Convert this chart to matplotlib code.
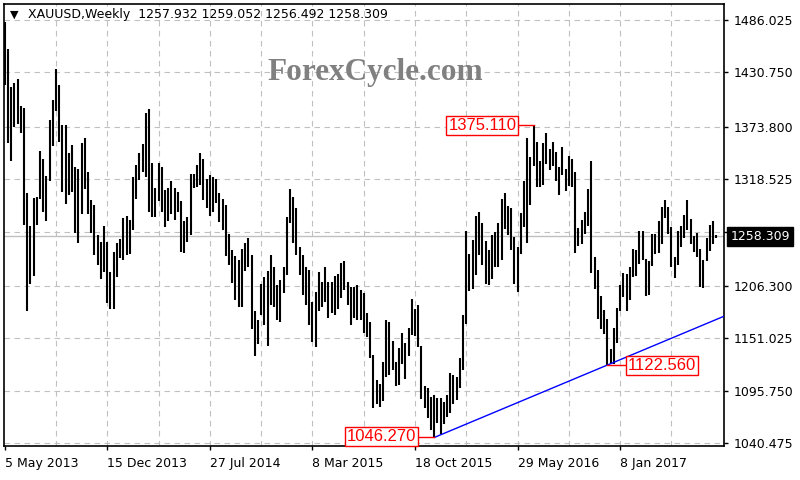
import matplotlib.pyplot as plt
from matplotlib.transforms import blended_transform_factory

# weekly XAUUSD bars from week of 5 May 2013 (bar index = week number)
highs = [
    1484, 1455, 1415, 1420, 1424, 1395, 1393, 1304, 1269, 1299,
    1300, 1348, 1340, 1322, 1381, 1402, 1434, 1418, 1375, 1375,
    1346, 1354, 1331, 1329, 1357, 1362, 1326, 1296, 1291, 1260,
    1252, 1269, 1252, 1221, 1242, 1251, 1255, 1277, 1280, 1275,
    1321, 1333, 1346, 1355, 1388, 1392, 1335, 1309, 1335, 1331,
    1307, 1309, 1316, 1309, 1305, 1295, 1274, 1279, 1324, 1324,
    1333, 1346, 1340, 1319, 1323, 1321, 1319, 1304, 1298, 1291,
    1261, 1244, 1237, 1233, 1245, 1251, 1256, 1238, 1180, 1170,
    1208, 1215, 1222, 1238, 1226, 1207, 1212, 1226, 1279, 1308,
    1300, 1288, 1247, 1238, 1226, 1223, 1189, 1200, 1221, 1210,
    1226, 1210, 1210, 1216, 1219, 1230, 1232, 1210, 1205, 1205,
    1207, 1202, 1198, 1177, 1168, 1133, 1107, 1103, 1126, 1170,
    1168, 1148, 1126, 1141, 1156, 1146, 1162, 1192, 1182, 1186,
    1143, 1101, 1098, 1089, 1091, 1088, 1088, 1084, 1091, 1114,
    1112, 1110, 1130, 1175, 1264, 1240, 1254, 1280, 1284, 1272,
    1253, 1244, 1260, 1263, 1272, 1297, 1304, 1290, 1288, 1257,
    1247, 1283, 1316, 1362, 1342, 1375.11, 1358, 1337, 1357, 1367,
    1350, 1358, 1347, 1331, 1352, 1329, 1343, 1340, 1326, 1267,
    1275, 1284, 1308, 1338, 1236, 1223, 1195, 1181, 1171, 1139,
    1162, 1183, 1207, 1220, 1219, 1226, 1245, 1244, 1264, 1264,
    1234, 1232, 1261, 1261, 1274, 1289, 1296, 1289, 1268, 1236,
    1264, 1269, 1281, 1296, 1276, 1258, 1262, 1245, 1233, 1256,
    1270, 1274, 1259.052,
]
lows = [
    1418, 1356, 1338, 1373, 1377, 1367, 1270, 1180, 1208, 1216,
    1270, 1297, 1284, 1274, 1316, 1353, 1390, 1358, 1305, 1292,
    1302, 1305, 1262, 1251, 1282, 1308, 1282, 1262, 1238, 1228,
    1213, 1221, 1188, 1182, 1182, 1215, 1235, 1233, 1238, 1240,
    1265, 1297, 1317, 1326, 1321, 1284, 1279, 1279, 1295, 1284,
    1268, 1274, 1282, 1275, 1284, 1242, 1241, 1252, 1260, 1309,
    1310, 1312, 1296, 1288, 1280, 1284, 1293, 1273, 1265, 1237,
    1228, 1209, 1191, 1184, 1184, 1222, 1226, 1161, 1132, 1145,
    1175, 1165, 1143, 1186, 1184, 1170, 1168, 1198, 1217, 1272,
    1251, 1238, 1217, 1196, 1186, 1165, 1147, 1142, 1179, 1184,
    1189, 1172, 1177, 1175, 1182, 1193, 1202, 1186, 1165, 1172,
    1170, 1170, 1156, 1152, 1130, 1077, 1082, 1078, 1085, 1110,
    1112, 1117, 1100, 1102, 1124, 1108, 1132, 1154, 1153, 1142,
    1087, 1077, 1067, 1054, 1046.27, 1062, 1050, 1061, 1068, 1072,
    1082, 1086, 1098, 1117, 1166, 1201, 1203, 1217, 1238, 1228,
    1208, 1207, 1213, 1226, 1226, 1233, 1266, 1260, 1244, 1208,
    1199, 1240, 1268, 1251, 1291, 1332, 1310, 1310, 1312, 1334,
    1328, 1332, 1316, 1302, 1323, 1306, 1311, 1310, 1241, 1248,
    1250, 1261, 1269, 1220, 1203, 1171, 1161, 1155, 1122.56, 1124,
    1124, 1146, 1180, 1194, 1180, 1191, 1215, 1216, 1229, 1233,
    1195, 1196, 1227, 1240, 1241, 1250, 1277, 1261, 1226, 1214,
    1228, 1247, 1256, 1265, 1250, 1242, 1236, 1205, 1204, 1232,
    1243, 1250, 1256.492,
]
last_open = 1257.932
last_close = 1258.309

x_label_bars = [0, 32, 64, 96, 128, 160, 192]
x_labels = ['5 May 2013', '15 Dec 2013', '27 Jul 2014', '8 Mar 2015',
            '18 Oct 2015', '29 May 2016', '8 Jan 2017']
price_ticks = [1040.475, 1095.750, 1151.025, 1206.300, 1262.413,
               1318.525, 1373.800, 1430.750, 1486.025]
price_labels = ['1040.475', '1095.750', '1151.025', '1206.300', '',
                '1318.525', '1373.800', '1430.750', '1486.025']

peak_bar = 165      # swing high
low_bars = [134, 188]  # swing lows for the trendline

fig = plt.figure(figsize=(8, 4.8), dpi=100)
ax = fig.add_axes([4 / 800, 34 / 480, 720 / 800, 442 / 480])
ax.set_xlim(-0.22, 224.4)
ax.set_ylim(1037.3, 1502.9)

# grid
for y in price_ticks:
    ax.axhline(y, color='#c0c0c0', lw=0.8, dashes=(5, 4), zorder=0)
for b in range(16, 224, 16):
    ax.axvline(b, color='#c0c0c0', lw=0.8, dashes=(5, 4), zorder=0)

# current price line
ax.axhline(last_close, color='#c0c0c0', lw=1.0, zorder=1)

# bars
bars = list(range(len(highs)))
ax.vlines(bars, lows, highs, color='black', lw=1.5, zorder=3)

# trendline through the two lows, extended to the right edge
b0, b1 = low_bars
p0, p1 = lows[b0], lows[b1]
slope = (p1 - p0) / (b1 - b0)
x_end = 224.4
ax.plot([b0, x_end], [p0, p0 + slope * (x_end - b0)], color='#0000ff', lw=1.0, zorder=4)

# red swing labels
box = dict(boxstyle='square,pad=0.12', fc='white', ec='#ff0000', lw=1)
lab = dict(color='#ff0000', fontsize=12, family='Liberation Sans', va='center',
           bbox=box, zorder=5)
ax.plot([160.1, peak_bar], [highs[peak_bar]] * 2, color='#ff0000', lw=1, zorder=4)
ax.text(159.6, highs[peak_bar], f'{highs[peak_bar]:.3f}', ha='right', **lab)
ax.plot([128.9, b0], [p0] * 2, color='#ff0000', lw=1, zorder=4)
ax.text(128.3, p0 + 1.5, f'{p0:.3f}', ha='right', **lab)
ax.plot([b1, 193.8], [p1] * 2, color='#ff0000', lw=1, zorder=4)
ax.text(194.4, p1, f'{p1:.3f}', ha='left', **lab)

# axes styling
for s in ax.spines.values():
    s.set_color('black')
    s.set_linewidth(1.2)
ax.yaxis.tick_right()
ax.set_yticks(price_ticks)
ax.set_yticklabels(price_labels)
ax.set_xticks(x_label_bars)
ax.set_xticklabels(x_labels, ha='left')
ax.tick_params(axis='both', labelsize=9, length=3, width=1, colors='black', pad=4)
ax.tick_params(axis='x', pad=5)

# current price tag
trans = blended_transform_factory(ax.transAxes, ax.transData)
ax.text(1.009, last_close, f'{last_close:.3f}', transform=trans, ha='left', va='center',
        color='white', fontsize=9, zorder=6, clip_on=False,
        bbox=dict(boxstyle='square,pad=0.25', fc='black', ec='black'))

# header and watermark
ax.text(0.008, 0.976, '\u25bc', transform=ax.transAxes, fontsize=8, va='center', ha='left')
ax.text(0.033, 0.977,
        f'XAUUSD,Weekly  {last_open:.3f} {highs[-1]:.3f} {lows[-1]:.3f} {last_close:.3f}',
        transform=ax.transAxes, fontsize=9, va='center', ha='left', color='black')
ax.text(0.516, 0.846, 'ForexCycle.com', transform=ax.transAxes, fontsize=22.5,
        family='Liberation Serif', weight='bold', color='#808080', ha='center', va='center')

plt.savefig('out.png', dpi=100)
